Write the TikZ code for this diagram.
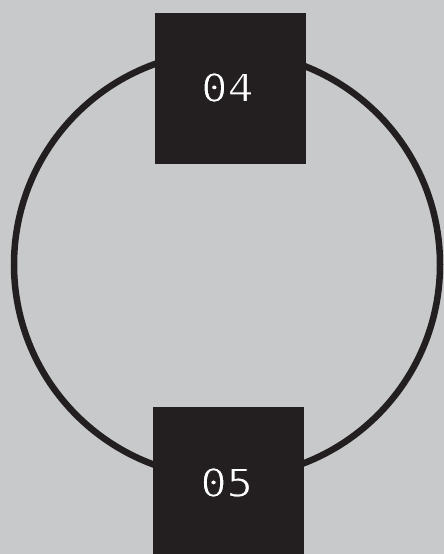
\documentclass[tikz,border=0pt]{standalone}
\usepackage{fontspec}
\newfontfamily\monofont[FakeStretch=1.12]{DejaVu Sans Mono}
\definecolor{bg}{HTML}{C8C9CA}
\definecolor{ink}{HTML}{231F20}
\newcommand\thinner[1]{\special{pdf:literal direct 2 Tr 1.0 w 0.137 0.122 0.125 RG}#1\special{pdf:literal direct 0 Tr}}
\begin{document}
\begin{tikzpicture}[x=1pt,y=-1pt,
  box/.style={fill=ink,draw=none,minimum width=151pt,minimum height=151pt,inner sep=0pt},
  num/.style={text=white,inner sep=0pt,font=\monofont\fontsize{39}{39}\selectfont}]
\path[use as bounding box,fill=bg] (0,0) rectangle (444,554);
\begin{scope}
\clip (0,0) rectangle (444,554);
\draw[ink,line width=6.5pt] (227,264.5) circle[radius=213];
\node[box] (n04) at (230.5,88.5) {};
\node[box] (n05) at (228.5,482.5) {};
\node[num] (t04) at (227.5,87.5) {\thinner{04}};
\node[num] (t05) at (226.7,482.5) {\thinner{05}};
\end{scope}
\end{tikzpicture}
\end{document}
